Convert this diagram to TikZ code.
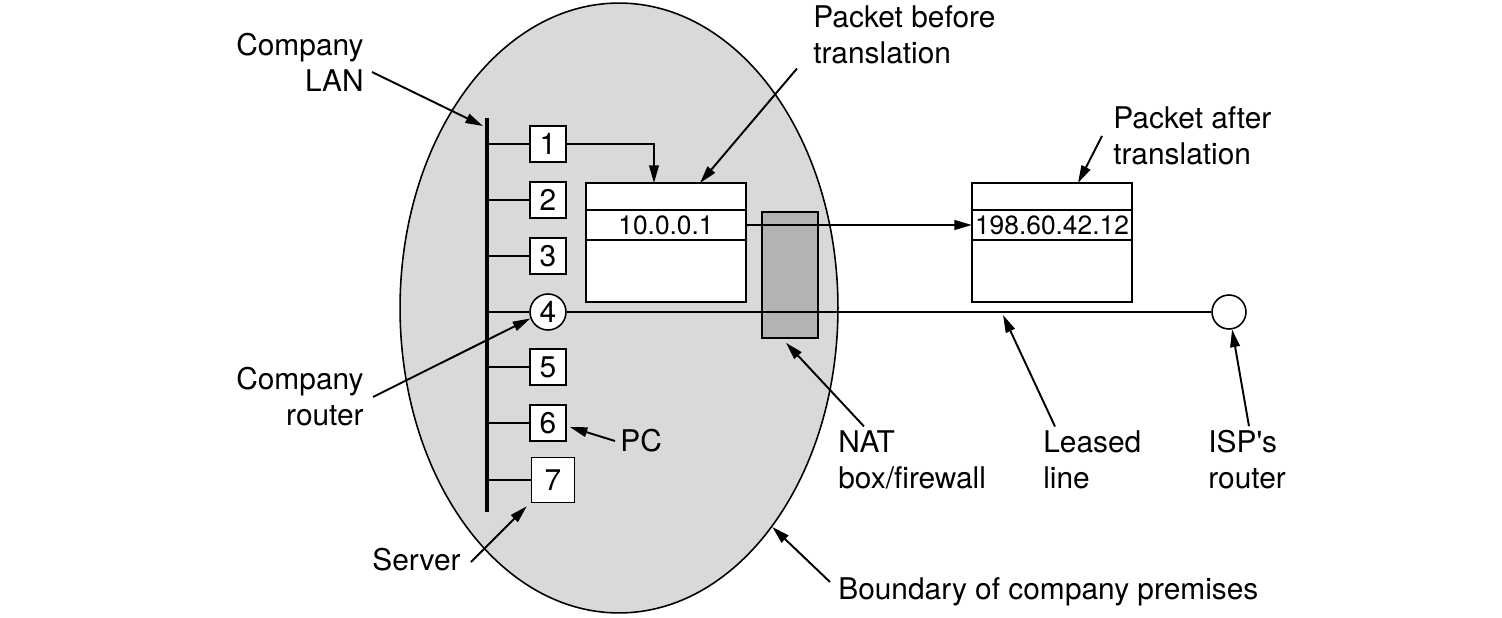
\documentclass[tikz,border=0pt]{standalone}
\usepackage{fontspec}
\setmainfont{TeX Gyre Heros}
\usetikzlibrary{positioning,arrows.meta,shapes.geometric,calc}
\definecolor{premgray}{RGB}{217,217,217}
\definecolor{natgray}{RGB}{179,179,179}

\begin{document}
\begin{tikzpicture}[
  x=0.02cm, y=-0.02cm,
  lbl/.style={font=\fontsize{17}{20.5}\selectfont,inner sep=0pt},
  host/.style={rectangle,draw,fill=white,line width=0.9pt,minimum width=0.72cm,minimum height=0.72cm,inner sep=0pt,font=\fontsize{17}{19}\selectfont},
  rtr/.style={circle,draw,fill=white,line width=0.9pt,minimum size=0.72cm,inner sep=0pt,font=\fontsize{17}{19}\selectfont},
  field/.style={rectangle,draw,fill=white,line width=0.9pt,minimum width=3.2cm,inner sep=0pt,outer sep=0pt,font=\fontsize{15}{18}\selectfont},
  ptr/.style={-{Triangle[length=10pt,width=5.5pt]},line width=1.1pt},
  wire/.style={line width=1.6pt}
]
\useasboundingbox (0,0) rectangle (1502,618);

\node[ellipse,draw,fill=premgray,line width=0.9pt,minimum width=8.76cm,minimum height=12.2cm,inner sep=0pt] (premises) at (619,308) {};
\node[rectangle,draw,fill=natgray,line width=0.9pt,minimum width=1.12cm,minimum height=2.52cm,inner sep=0pt] (nat) at (790,275) {};

\coordinate (bustop) at (487,118);
\coordinate (busbot) at (487,512);
\draw[line width=1.8pt] (bustop) -- (busbot);

\node[host] (h1) at (548,144) {1};
\node[host] (h2) at (548,200) {2};
\node[host] (h3) at (548,256) {3};
\node[rtr] (rtr4) at (548,312) {4};
\node[host] (h5) at (548,367) {5};
\node[host] (h6) at (548,423) {6};
\node[host,minimum width=0.86cm,minimum height=0.9cm] (h7) at (553,480) {7};
\foreach \n in {h1,h2,h3,rtr4,h5,h6,h7}
  \draw[wire] (\n.west) -- (\n.west -| bustop);

\node[field,minimum height=0.54cm] (inhdr) at (666,196.5) {};
\node[field,minimum height=0.6cm,below=0pt of inhdr] (inaddr) {10.0.0.1};
\node[field,minimum height=1.24cm,below=0pt of inaddr] (inbody) {};

\node[field,minimum height=0.54cm] (outhdr) at (1052,196.5) {};
\node[field,minimum height=0.6cm,below=0pt of outhdr] (outaddr) {198.60.42.12};
\node[field,minimum height=1.24cm,below=0pt of outaddr] (outbody) {};

\node[rtr,minimum size=0.68cm] (isp) at (1229,312) {};
\coordinate (llpt) at (1003,315);

\draw[wire] (rtr4.east) -- (isp.west);
\draw[ptr] (inaddr.east) -- (outaddr.west);
\draw[ptr] (h1.east) -| ($(inhdr.north)+(-12,0)$);

\node[lbl,anchor=east,align=right] (lan) at (364,62) {Company\\LAN};
\node[lbl,anchor=east,align=right] (lanrtr) at (364,397) {Company\\router};
\node[lbl,anchor=west] (pc) at (620,441) {PC};
\node[lbl,anchor=west] (server) at (372,560) {Server};
\node[lbl,anchor=west,align=left] (before) at (813,35) {Packet before\\translation};
\node[lbl,anchor=west,align=left] (after) at (1113,136) {Packet after\\translation};
\node[lbl,anchor=west,align=left] (natlbl) at (838,460) {NAT\\box/firewall};
\node[lbl,anchor=west,align=left] (leased) at (1043,460) {Leased\\line};
\node[lbl,anchor=west,align=left] (isplbl) at (1208,460) {ISP\textquotesingle s\\router};
\node[lbl,anchor=west] (bndry) at (838,592) {Boundary of company premises};

\draw[ptr] ($(lan.east)+(8,10)$) -- ($(bustop)+(-4,8)$);
\draw[ptr] ($(lanrtr.east)+(9,0)$) -- (rtr4.200);
\draw[ptr] ($(pc.west)+(-5,0)$) -- ($(h6.east)+(3,4)$);
\draw[ptr] ($(server.east)+(10,2)$) -- ($(h7.south west)+(-4,3)$);
\draw[ptr] ($(before.south west)+(-16,4)$) -- ($(inhdr.north)+(34,0)$);
\draw[ptr] ($(after.west)+(-11,0)$) -- ($(outhdr.north)+(26,0)$);
\draw[ptr] ($(natlbl.north west)+(26,-4)$) -- ($(nat.south)+(-4,4)$);
\draw[ptr] ($(leased.north west)+(12,-4)$) -- (llpt);
\draw[ptr] ($(isplbl.north west)+(41,-4)$) -- (isp.-80);
\draw[ptr] ($(bndry.west)+(-8,-10)$) -- (premises.-55);

\end{tikzpicture}
\end{document}
